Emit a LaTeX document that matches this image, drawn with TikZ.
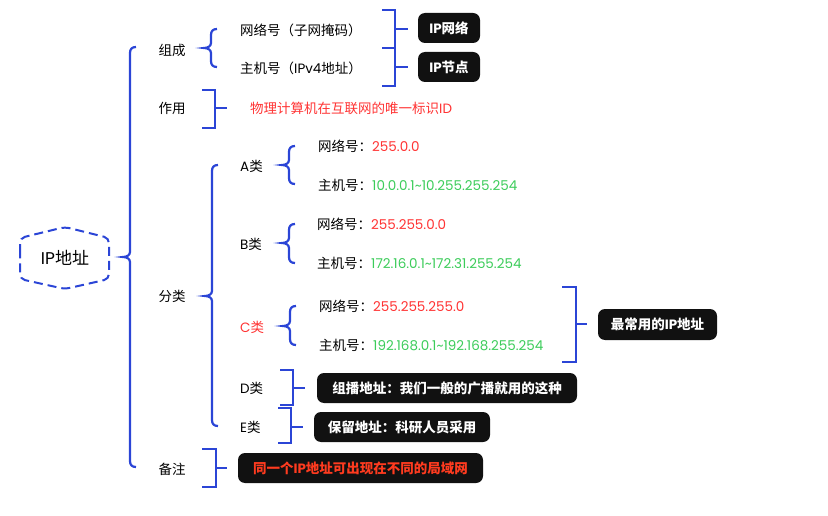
\documentclass[tikz,border=0pt]{standalone}
\usepackage{fontspec}
\setmainfont{Noto Sans CJK SC}
\newfontfamily\pop{Poppins}
\definecolor{lineblue}{RGB}{43,69,214}
\definecolor{valred}{RGB}{255,51,51}
\definecolor{valgreen}{RGB}{60,204,90}
\definecolor{boxblack}{RGB}{17,17,17}
\definecolor{notered}{RGB}{255,59,31}
\newcommand\curlyb[4]{%
 \draw[br] ({#1+13},#2) .. controls ({#1+9},#2) and ({#1+7},{#2+2}) .. ({#1+7},{#2+6})
 -- ({#1+7},{#4-5}) .. controls ({#1+7},{#4-2}) and ({#1+4},#4) .. (#1,#4)
 .. controls ({#1+4},#4) and ({#1+7},{#4+2}) .. ({#1+7},{#4+5})
 -- ({#1+7},{#3-6}) .. controls ({#1+7},{#3-2}) and ({#1+9},#3) .. ({#1+13},#3);}
\newcommand\sqb[6]{%
 \draw[br] (#1,#3) -- (#2,#3) -- (#2,#4) -- (#1,#4);
 \draw[br] (#2,#5) -- (#6,#5);}
\begin{document}
\begin{tikzpicture}[x=1pt,y=-1pt,
 br/.style={draw=lineblue, line width=2.2pt},
 lbl/.style={inner sep=0, font=\fontsize{13.5}{16}\selectfont, text=black},
 tag/.style={fill=boxblack, rounded corners=7pt, text=white, font=\fontsize{13.5}{16}\selectfont\bfseries, inner sep=0, minimum height=30},
]
\useasboundingbox (0,0) rectangle (828,516);
% root
\draw[lineblue, line width=2pt, dash pattern=on 9pt off 5pt, rounded corners=5pt]
 (20,258) -- (20,238) -- (65,227) -- (109,238) -- (109,279) -- (65,289) -- (20,279) -- cycle;
\node[inner sep=0, font=\fontsize{17}{20}\selectfont] (root) at (65,258) {{\pop IP}地址};
% main brace
\curlyb{123}{47}{467}{257}
\node[lbl] (zc) at (172,50) {组成};
\node[lbl] (zy) at (172,108) {作用};
\node[lbl] (fl) at (172,296) {分类};
\node[lbl] (bz) at (172,469) {备注};
% 组成
\curlyb{204}{29}{67}{48}
\node[lbl, anchor=west] (wlh) at (240,30) {网络号（子网掩码）};
\node[lbl, anchor=west] (zjh) at (240,68) {主机号（{\pop IPv4}地址）};
\sqb{382}{395}{10}{48}{29}{408}
\sqb{382}{395}{48}{86}{67}{408}
\node[tag, minimum width=62] (ipnet) at (449,28) {{\pop IP}网络};
\node[tag, minimum width=62] (ipnode) at (449,67) {{\pop IP}节点};
% 作用
\sqb{202}{215}{90}{128}{108}{227}
\node[lbl, anchor=west, text=valred] (zyt) at (250,108) {物理计算机在互联网的唯一标识{\pop ID}};
% 分类
\curlyb{205}{165}{426}{296}
\node[lbl, anchor=west] (a) at (240,166) {{\pop A}类};
\node[lbl, anchor=west] (b) at (240,244) {{\pop B}类};
\node[lbl, anchor=west, text=valred] (c) at (240,327) {{\pop C}类};
\node[lbl, anchor=west] (d) at (240,388) {{\pop D}类};
\node[lbl, anchor=west] (e) at (240,427) {{\pop E}类};
% A
\curlyb{282}{146}{184}{165}
\node[lbl, anchor=west] (an) at (318,146) {网络号：\textcolor{valred}{\pop 255.0.0}};
\node[lbl, anchor=west] (ah) at (318,185) {主机号：\textcolor{valgreen}{\pop 10.0.0.1\textasciitilde10.255.255.254}};
% B
\curlyb{282}{224}{263}{243}
\node[lbl, anchor=west] (bn) at (317,224) {网络号：\textcolor{valred}{\pop 255.255.0.0}};
\node[lbl, anchor=west] (bh) at (317,263) {主机号：\textcolor{valgreen}{\pop 172.16.0.1\textasciitilde172.31.255.254}};
% C
\curlyb{283}{306}{345}{326}
\node[lbl, anchor=west] (cn) at (319,306) {网络号：\textcolor{valred}{\pop 255.255.255.0}};
\node[lbl, anchor=west] (ch) at (319,345) {主机号：\textcolor{valgreen}{\pop 192.168.0.1\textasciitilde192.168.255.254}};
\sqb{562}{576}{287}{362}{324}{587}
\node[tag, minimum width=119, minimum height=31] (cmost) at (657.5,324.5) {最常用的{\pop IP}地址};
% D, E
\sqb{280}{293}{370}{405}{388}{305}
\node[tag, minimum width=260] (dt) at (447,388) {组播地址：我们一般的广播就用的这种};
\sqb{278}{291}{408}{443}{427}{303}
\node[tag, minimum width=176] (et) at (402,427) {保留地址：科研人员采用};
% 备注
\sqb{202}{216}{449}{487}{468}{227}
\node[tag, minimum width=245, text=notered] (bzt) at (360.5,468) {同一个{\pop IP}地址可出现在不同的局域网};
\end{tikzpicture}
\end{document}
